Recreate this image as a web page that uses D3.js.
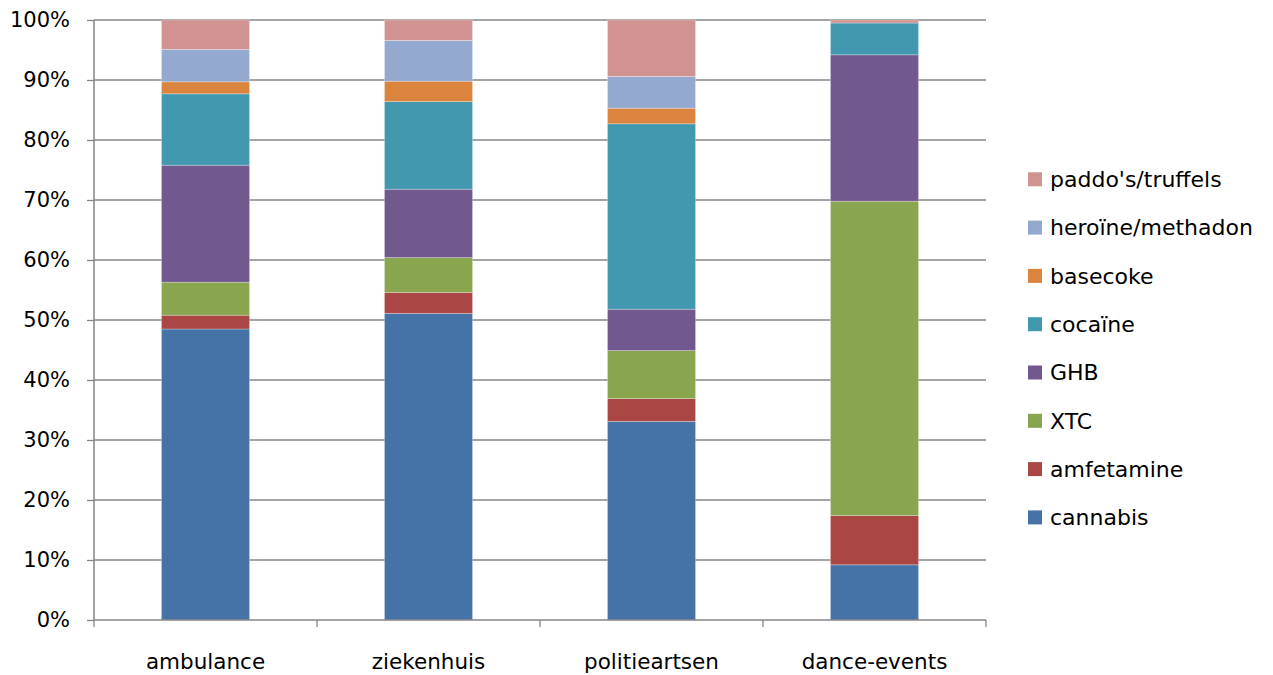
<!DOCTYPE html>
<html><head><meta charset="utf-8">
<script src="https://cdn.jsdelivr.net/npm/d3@7"></script>
<style>body{margin:0;background:#fff}svg{display:block}text{font-family:"DejaVu Sans",sans-serif;fill:#000}</style>
</head><body>
<svg id="c" width="1273" height="675"></svg>
<script>
const categories = ["ambulance", "ziekenhuis", "politieartsen", "dance-events"];
const seriesNames = ["cannabis", "amfetamine", "XTC", "GHB", "cocaïne", "basecoke", "heroïne/methadon", "paddo's/truffels"];
const seriesColors = ["#4572A7", "#AA4643", "#89A54E", "#71588F", "#4198AF", "#DB843D", "#93A9CF", "#D19392"];
const cannabis   = [48.5, 51.1, 33.1, 9.2];
const amfetamine = [2.3, 3.5, 3.8, 8.2];
const xtc        = [5.5, 5.8, 8.0, 52.4];
const ghb        = [19.5, 11.4, 6.9, 24.4];
const cocaine    = [11.9, 14.6, 30.9, 5.3];
const basecoke   = [2.0, 3.4, 2.6, 0.0];
const heroine    = [5.4, 6.8, 5.3, 0.0];
const paddo      = [4.9, 3.4, 9.4, 0.5];
const yTicks = [0, 10, 20, 30, 40, 50, 60, 70, 80, 90, 100];

const seriesValues = [cannabis, amfetamine, xtc, ghb, cocaine, basecoke, heroine, paddo];
const rows = categories.map((c, i) => {
  const r = {cat: c};
  seriesNames.forEach((s, j) => r[s] = seriesValues[j][i]);
  return r;
});
const stacked = d3.stack().keys(seriesNames)(rows);

const svg = d3.select("#c");
const pL = 94, pR = 986, pT = 20, pB = 620;
const x = d3.scaleBand().domain(categories).range([pL, pR]).paddingInner(0.605).paddingOuter(0.3025);
const y = d3.scaleLinear().domain([0, 100]).range([pB, pT]);
const grid = "#868686";

// gridlines
svg.append("g").selectAll("line").data(yTicks.filter(t => t > 0)).join("line")
  .attr("x1", pL).attr("x2", pR)
  .attr("y1", d => y(d)).attr("y2", d => y(d))
  .attr("stroke", grid).attr("stroke-width", 1.3);

// bars
svg.append("g").selectAll("g").data(stacked).join("g")
  .attr("fill", (d, i) => seriesColors[i])
  .selectAll("rect").data(d => d).join("rect")
  .attr("x", d => x(d.data.cat))
  .attr("width", x.bandwidth())
  .attr("y", d => y(d[1]))
  .attr("height", d => Math.max(0, y(d[0]) - y(d[1])))
  .attr("stroke", "rgba(255,255,255,0.35)").attr("stroke-width", 0.8);

// y axis
const yAxis = d3.axisLeft(y).tickValues(yTicks).tickFormat(d => d + "%").tickSize(7).tickPadding(17);
const ya = svg.append("g").attr("transform", `translate(${pL},0)`).call(yAxis);
ya.select(".domain").attr("stroke", grid).attr("stroke-width", 1.5).attr("d", `M0,${pT}V${pB}`);
ya.selectAll(".tick line").attr("stroke", grid).attr("stroke-width", 1.3);
ya.selectAll(".tick text").attr("font-size", 21).attr("font-family", "DejaVu Sans").attr("fill", "#000");

// x axis
const xa = svg.append("g").attr("transform", `translate(0,${pB})`);
xa.append("line").attr("x1", pL).attr("x2", pR).attr("y1", 0).attr("y2", 0).attr("stroke", grid).attr("stroke-width", 1.5);
const step = x.step();
xa.selectAll("line.tk").data(d3.range(categories.length + 1)).join("line").attr("class", "tk")
  .attr("x1", i => pL + i * step).attr("x2", i => pL + i * step)
  .attr("y1", 0).attr("y2", 7).attr("stroke", grid).attr("stroke-width", 1.3);
xa.selectAll("text").data(categories).join("text")
  .attr("x", d => x(d) + x.bandwidth() / 2).attr("y", 49)
  .attr("text-anchor", "middle").attr("font-size", 21.5).text(d => d);

// legend
const legendOrder = seriesNames.map((s, i) => i).reverse();
const lg = svg.append("g").selectAll("g").data(legendOrder).join("g")
  .attr("transform", (d, k) => `translate(1028,${179.3 + k * 48.3})`);
lg.append("rect").attr("x", 0).attr("y", -7).attr("width", 14).attr("height", 14).attr("fill", i => seriesColors[i]);
lg.append("text").attr("x", 22).attr("y", 0).attr("dy", "0.35em").attr("font-size", 22).text(i => seriesNames[i]);
</script>
</body></html>
